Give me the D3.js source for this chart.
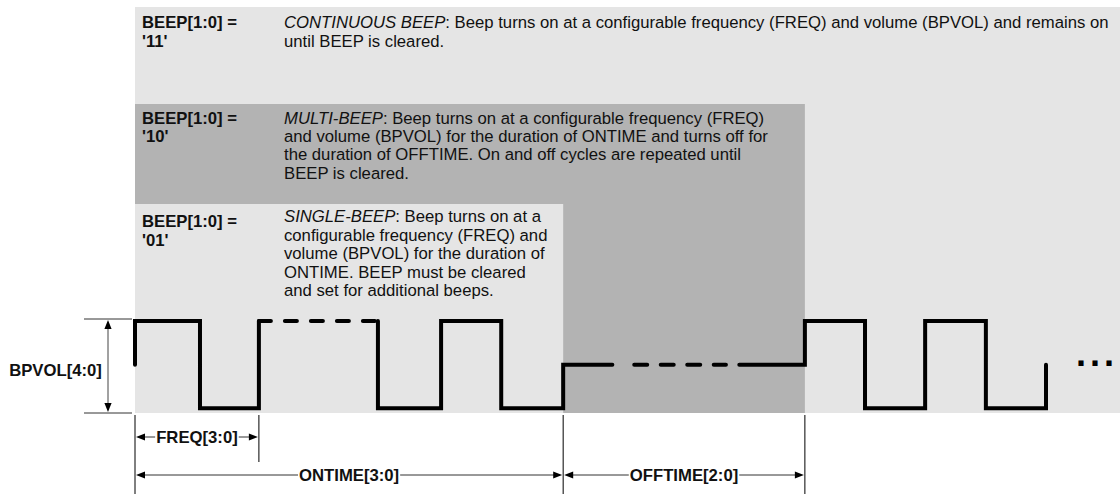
<!DOCTYPE html>
<html><head><meta charset="utf-8">
<script src="https://cdn.jsdelivr.net/npm/d3@7"></script>
<style>html,body{margin:0;padding:0;background:#fff;} svg{display:block;}</style>
</head><body>
<svg id="chart" width="1120" height="494"></svg>
<script>
// ---------------- data ----------------
const modeField = "BEEP[1:0] =";
const modeCodes = ["'11'", "'10'", "'01'"];
const modeNames = ["CONTINUOUS BEEP", "MULTI-BEEP", "SINGLE-BEEP"];
const modeText = [
  [": Beep turns on at a configurable frequency (FREQ) and volume (BPVOL) and remains on",
   "until BEEP is cleared."],
  [": Beep turns on at a configurable frequency (FREQ)",
   "and volume (BPVOL) for the duration of ONTIME and turns off for",
   "the duration of OFFTIME. On and off cycles are repeated until",
   "BEEP is cleared."],
  [": Beep turns on at a",
   "configurable frequency (FREQ) and",
   "volume (BPVOL) for the duration of",
   "ONTIME. BEEP must be cleared",
   "and set for additional beeps."]
];
const modeEnd = [null, 11.03, 7.05];          // time where each mode's band ends (null = open)
const edgeTimes  = [0, 1.07, 2.04, 4, 5.04, 6.03, 7.05, 11.03, 12.02, 13.01, 14.01, 15];
const edgeLevels = [0.5, 1, 0, 1, 0, 1, 0, 0.5, 1, 0, 1, 0, 0.5]; // before first edge, then after each edge
const solidSpans  = [[0, 2.04], [4, 7.86], [9.95, 15]];
const dashedSpans = [[2.04, 4], [8.22, 9.73]];
const dimSpans  = [[0, 2.04], [0, 7.05], [7.05, 11.03]];
const dimLabels = ["FREQ[3:0]", "ONTIME[3:0]", "OFFTIME[2:0]"];
const ampLabel = "BPVOL[4:0]";
const moreLabel = "...";

// ---------------- layout ----------------
const W = 1120, H = 494;
const svg = d3.select("#chart");
const FONT = "Arial, 'Liberation Sans', Helvetica, sans-serif";
const FS = 16.7;
const x = d3.scaleLinear().domain([0, 15]).range([135, 1046]);
const y = d3.scaleLinear().domain([0, 1]).range([408.3, 321]);
const regionTop = [7, 104, 204];
const regionBottom = 413;
const regionFill = ["#e5e5e5", "#b3b3b3", "#e5e5e5"];
const textBase = [28.3, 123.7, 222];
const labelBase = [28.3, 124, 227];
const lineH = [18.4, 18.3, 18.6];
const labelX = 142, textX = 284;
const INK = "#111";

// bands + texts
modeNames.forEach((name, i) => {
  const x1 = modeEnd[i] == null ? W : x(modeEnd[i]);
  svg.append("rect")
    .attr("x", x(0)).attr("y", regionTop[i])
    .attr("width", x1 - x(0)).attr("height", regionBottom - regionTop[i])
    .attr("fill", regionFill[i]);

  const lab = svg.append("text")
    .attr("font-family", FONT).attr("font-size", FS).attr("font-weight", "bold").attr("fill", INK);
  [modeField, modeCodes[i]].forEach((s, k) => {
    lab.append("tspan").attr("x", labelX).attr("y", labelBase[i] + k * lineH[i]).text(s);
  });

  const par = svg.append("text")
    .attr("font-family", FONT).attr("font-size", FS).attr("fill", INK);
  modeText[i].forEach((s, k) => {
    if (k === 0) {
      par.append("tspan").attr("x", textX).attr("y", textBase[i]).attr("font-style", "italic").text(name);
      par.append("tspan").text(s);
    } else {
      par.append("tspan").attr("x", textX).attr("y", textBase[i] + k * lineH[i]).text(s);
    }
  });
});

// waveform
function levelBefore(t) {
  let k = 0;
  while (k < edgeTimes.length && edgeTimes[k] < t) k++;
  return edgeLevels[k];
}
function stepPoints(a, b) {
  const pts = [[a, levelBefore(a)]];
  edgeTimes.forEach((e, k) => {
    if (e >= a && e <= b) {
      pts.push([e, edgeLevels[k]]);
      pts.push([e, edgeLevels[k + 1]]);
    }
  });
  pts.push([b, pts[pts.length - 1][1]]);
  return pts;
}
const line = d3.line().x(d => x(d[0])).y(d => y(d[1]));
const wave = svg.append("g").attr("fill", "none").attr("stroke", "#000")
  .attr("stroke-width", 4).attr("stroke-linejoin", "miter").attr("stroke-linecap", "round");
solidSpans.forEach(([a, b]) => wave.append("path").attr("d", line(stepPoints(a, b))));
const dashPatterns = ["12,14", "13,13.5"];
dashedSpans.forEach(([a, b], i) => {
  const lv = levelBefore((a + b) / 2);
  wave.append("path").attr("d", line([[a, lv], [b, lv]])).attr("stroke-dasharray", dashPatterns[i]);
});

svg.append("text")
  .attr("x", 1076).attr("y", 366)
  .attr("font-family", FONT).attr("font-size", 36).attr("font-weight", "bold")
  .attr("letter-spacing", 4).attr("fill", "#000").text(moreLabel);

// arrow helper
function head(g, tipX, tipY, dir) { // dir: 'l','r','u','d'
  const L = 9, Hh = 3.6;
  let p;
  if (dir === "l") p = [[tipX, tipY], [tipX + L, tipY - Hh], [tipX + L, tipY + Hh]];
  if (dir === "r") p = [[tipX, tipY], [tipX - L, tipY - Hh], [tipX - L, tipY + Hh]];
  if (dir === "u") p = [[tipX, tipY], [tipX - Hh, tipY + L], [tipX + Hh, tipY + L]];
  if (dir === "d") p = [[tipX, tipY], [tipX - Hh, tipY - L], [tipX + Hh, tipY - L]];
  g.append("path").attr("d", "M" + p.map(q => q.join(",")).join("L") + "Z").attr("fill", "#000");
}

// amplitude annotation
const amp = svg.append("g");
const ampTop = y(1) - 2, ampBot = regionBottom;
[ampTop, ampBot].forEach(v => {
  amp.append("line").attr("x1", 84).attr("x2", 132).attr("y1", v).attr("y2", v)
    .attr("stroke", "#333").attr("stroke-width", 1);
});
amp.append("line").attr("x1", 108).attr("x2", 108).attr("y1", ampTop + 4).attr("y2", ampBot - 4)
  .attr("stroke", "#444").attr("stroke-width", 1);
head(amp, 108, ampTop + 1, "u");
head(amp, 108, ampBot - 1, "d");
amp.append("text").attr("x", 55.5).attr("y", (ampTop + ampBot) / 2 + 10)
  .attr("text-anchor", "middle").attr("font-family", FONT).attr("font-size", FS)
  .attr("font-weight", "bold").attr("fill", INK).text(ampLabel);

// timing dimension lines
const dims = svg.append("g");
const tickTop = regionBottom + 2;
[[0, H], [2.04, 462], [7.05, H], [11.03, H]].forEach(([t, yb]) => {
  dims.append("line").attr("x1", x(t)).attr("x2", x(t)).attr("y1", tickTop).attr("y2", yb)
    .attr("stroke", "#000").attr("stroke-width", 1);
});
const dimY = [437, 475, 475];
dimSpans.forEach(([a, b], i) => {
  const xa = x(a) + 1, xb = x(b) - 1, yy = dimY[i];
  const t = dims.append("text").attr("x", (x(a) + x(b)) / 2).attr("y", yy + 6)
    .attr("text-anchor", "middle").attr("font-family", FONT).attr("font-size", FS)
    .attr("font-weight", "bold").attr("fill", INK).text(dimLabels[i]);
  const bb = t.node().getBBox();
  dims.append("line").attr("x1", xa + 4).attr("x2", bb.x - 1).attr("y1", yy).attr("y2", yy)
    .attr("stroke", "#333").attr("stroke-width", 1);
  dims.append("line").attr("x1", bb.x + bb.width + 1).attr("x2", xb - 4).attr("y1", yy).attr("y2", yy)
    .attr("stroke", "#333").attr("stroke-width", 1);
  head(dims, xa, yy, "l");
  head(dims, xb, yy, "r");
});
</script>
</body></html>
